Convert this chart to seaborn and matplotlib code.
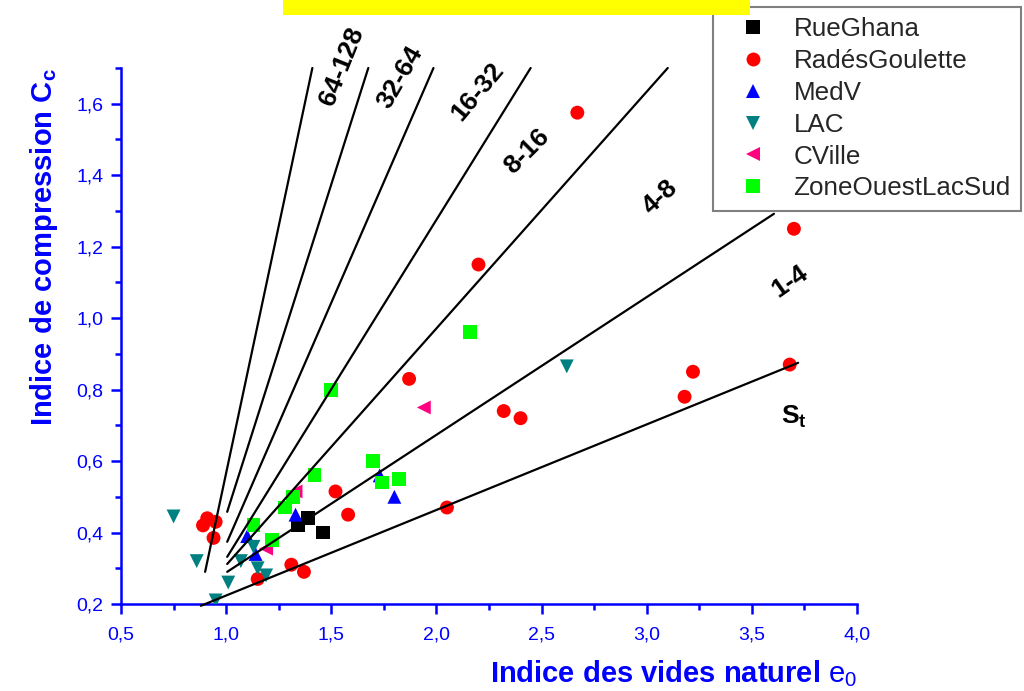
import numpy as np
import pandas as pd
import matplotlib
matplotlib.use('Agg')
import matplotlib.pyplot as plt
from matplotlib.ticker import MultipleLocator, FuncFormatter
from matplotlib.patches import Rectangle
import seaborn as sns

# --- Data ---
ghana_e0 = [1.39, 1.34, 1.46]
ghana_cc = [0.44, 0.42, 0.40]

rades_e0 = [2.67, 3.70, 2.20, 1.87, 3.22, 3.18, 3.68, 2.32, 2.40, 2.05,
            1.52, 1.58, 0.91, 0.89, 0.95, 0.94, 1.31, 1.37, 1.15]
rades_cc = [1.575, 1.25, 1.15, 0.83, 0.85, 0.78, 0.87, 0.74, 0.72, 0.47,
            0.515, 0.45, 0.44, 0.42, 0.43, 0.385, 0.31, 0.29, 0.27]

medv_e0 = [1.33, 1.80, 1.73, 1.10, 1.14]
medv_cc = [0.45, 0.50, 0.56, 0.39, 0.34]

lac_e0 = [0.75, 0.86, 1.01, 0.95, 1.07, 1.13, 1.15, 1.19, 2.62]
lac_cc = [0.445, 0.32, 0.26, 0.21, 0.32, 0.36, 0.30, 0.28, 0.865]

cville_e0 = [1.94, 1.19, 1.33]
cville_cc = [0.75, 0.355, 0.515]

zone_e0 = [2.16, 1.50, 1.70, 1.74, 1.82, 1.42, 1.32, 1.28, 1.13, 1.22]
zone_cc = [0.96, 0.80, 0.60, 0.54, 0.55, 0.56, 0.50, 0.47, 0.42, 0.38]

sites = ['RueGhana', 'RadésGoulette', 'MedV', 'LAC', 'CVille', 'ZoneOuestLacSud']
colors = ['#000000', '#FF0000', '#0000FF', '#008080', '#FF0080', '#00FF00']
marks = ['s', 'o', '^', 'v', '<', 's']

# sensitivity class boundaries (straight lines)
line_labels = ['64-128', '32-64', '16-32', '8-16', '4-8', '1-4', r'$\mathbf{S_t}$']
line_x0 = [0.90, 1.005, 1.005, 1.005, 1.005, 1.005, 0.88]
line_y0 = [0.29, 0.458, 0.374, 0.332, 0.312, 0.29, 0.195]
line_x1 = [1.41, 1.676, 1.986, 2.448, 3.10, 3.605, 3.72]
line_y1 = [1.70, 1.70, 1.70, 1.70, 1.70, 1.292, 0.875]
label_x = [1.552, 1.829, 2.195, 2.429, 3.062, 3.681, 3.70]
label_y = [1.704, 1.673, 1.634, 1.466, 1.34, 1.102, 0.724]
label_rot = [68, 60, 50, 45, 42, 35, 0]

frames = []
for name, xs, ys in zip(sites,
                        [ghana_e0, rades_e0, medv_e0, lac_e0, cville_e0, zone_e0],
                        [ghana_cc, rades_cc, medv_cc, lac_cc, cville_cc, zone_cc]):
    frames.append(pd.DataFrame({'e0': xs, 'Cc': ys, 'site': name}))
df = pd.concat(frames, ignore_index=True)

# --- Style ---
sns.set_style('ticks')
plt.rcParams['font.family'] = ['Liberation Sans', 'DejaVu Sans']
plt.rcParams['mathtext.fontset'] = 'custom'
plt.rcParams['mathtext.rm'] = 'Liberation Sans'
plt.rcParams['mathtext.bf'] = 'Liberation Sans:bold'
plt.rcParams['mathtext.default'] = 'regular'

blue = '#0000FF'
fig = plt.figure(figsize=(10.24, 6.91), dpi=100)
ax = fig.add_axes([121 / 1024, 1 - 604 / 691, 736 / 1024, 536 / 691])

sns.scatterplot(data=df, x='e0', y='Cc', hue='site', style='site',
                hue_order=sites, style_order=sites,
                palette=dict(zip(sites, colors)), markers=dict(zip(sites, marks)),
                s=100, linewidth=0, edgecolor='none', ax=ax, zorder=3)

for x0, y0, x1, y1 in zip(line_x0, line_y0, line_x1, line_y1):
    ax.plot([x0, x1], [y0, y1], color='black', lw=1.6, zorder=4, clip_on=False)

for txt, tx, ty, rot in zip(line_labels, label_x, label_y, label_rot):
    ax.text(tx, ty, txt, rotation=rot, ha='center', va='center',
            fontsize=19, fontweight='bold', color='black', zorder=5)

# --- Axes ---
ax.set_xlim(0.5, 4.0)
ax.set_ylim(0.2, 1.7)
ax.xaxis.set_major_locator(MultipleLocator(0.5))
ax.xaxis.set_minor_locator(MultipleLocator(0.25))
ax.yaxis.set_major_locator(MultipleLocator(0.2))
ax.yaxis.set_minor_locator(MultipleLocator(0.1))
comma = FuncFormatter(lambda v, p: f'{v:.1f}'.replace('.', ','))
ax.xaxis.set_major_formatter(comma)
ax.yaxis.set_major_formatter(comma)

sns.despine(ax=ax)
for side in ['left', 'bottom']:
    ax.spines[side].set_color(blue)
    ax.spines[side].set_linewidth(1.8)
ax.tick_params(which='both', direction='out', color=blue, labelcolor=blue, width=1.8)
ax.tick_params(which='major', length=7.5)
ax.tick_params(which='minor', length=4)
ax.tick_params(axis='y', which='major', labelsize=14, pad=5)
ax.tick_params(axis='x', which='major', labelsize=14, pad=9)

ax.set_xlabel(r'Indice des vides naturel $\mathrm{e_0}$', fontsize=21, fontweight='bold',
              color=blue, loc='right', labelpad=10)
ax.set_ylabel(r'Indice de compression $\mathbf{C_c}$', fontsize=21, fontweight='bold',
              color=blue, loc='top', labelpad=12)

# --- Legend ---
handles, labels = ax.get_legend_handles_labels()
pairs = [(h, l) for h, l in zip(handles, labels) if l in sites]
leg = ax.legend([p[0] for p in pairs], [p[1] for p in pairs],
                loc='upper left', bbox_to_anchor=(713 / 1024, 1 - 7 / 691),
                bbox_transform=fig.transFigure, borderaxespad=0,
                fontsize=18.7, frameon=True, fancybox=False, framealpha=1,
                edgecolor='#808080', handlelength=2.3, handletextpad=0.4,
                labelspacing=0.3, borderpad=0.4)
leg.get_frame().set_linewidth(1.5)

# yellow title band (mostly cut off at the top)
fig.patches.append(Rectangle((283 / 1024, 1 - 15 / 691), 467 / 1024, 15 / 691,
                             transform=fig.transFigure, facecolor='#FFFF00',
                             edgecolor='none', zorder=10))

fig.savefig('out.png', dpi=100)
